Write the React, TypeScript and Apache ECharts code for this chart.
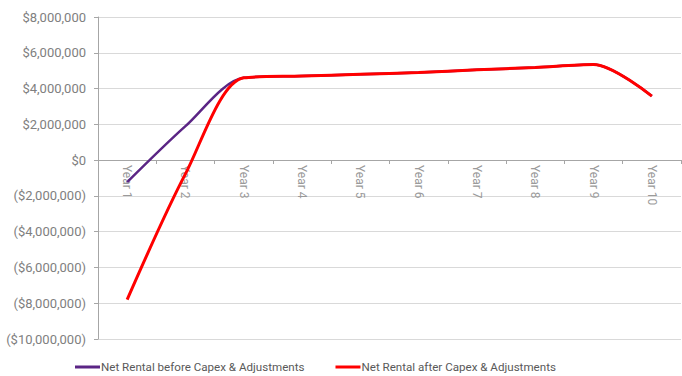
import React, { useEffect, useRef } from "react";
import * as echarts from "echarts";

const categories = ["Year 1", "Year 2", "Year 3", "Year 4", "Year 5", "Year 6", "Year 7", "Year 8", "Year 9", "Year 10"];
const netBefore = [-1230000, 1900000, 4600000, 4700000, 4800000, 4900000, 5050000, 5180000, 5350000, 3580000];
const netAfter = [-7800000, -770000, 4600000, 4700000, 4800000, 4900000, 5050000, 5180000, 5350000, 3580000];
const seriesNames = ["Net Rental before Capex & Adjustments", "Net Rental after Capex & Adjustments"];

const fmt = (v: number) => {
  const s = "$" + Math.abs(v).toLocaleString("en-US");
  return v < 0 ? "(" + s + ")" : s;
};

export default function App() {
  const ref = useRef<HTMLDivElement>(null);
  useEffect(() => {
    const chart = echarts.init(ref.current!, undefined, { renderer: "svg" });
    const font = "Roboto";
    chart.setOption({
      animation: false,
      textStyle: { fontFamily: font },
      grid: { left: 98, right: 1, top: 17, bottom: 37, containLabel: false, outerBoundsMode: "none" },
      legend: {
        top: 361,
        left: 75,
        padding: 0,
        itemWidth: 25,
        itemHeight: 3,
        itemGap: 31,
        icon: "rect",
        textStyle: { color: "#595959", fontSize: 11.6, fontFamily: font, padding: [0, 0, 0, -4] },
        data: seriesNames,
      },
      xAxis: {
        type: "category",
        data: categories,
        boundaryGap: true,
        position: "bottom",
        offset: -179,
        axisLine: { onZero: false, lineStyle: { color: "#a6a6a6", width: 1 } },
        axisTick: { show: true, length: 4, lineStyle: { color: "#a6a6a6" } },
        axisLabel: { rotate: -90, color: "#9a9a9a", fontSize: 12, margin: 5, fontFamily: font },
        splitLine: { show: false },
      },
      yAxis: {
        type: "value",
        min: -10000000,
        max: 8000000,
        interval: 2000000,
        axisLine: { show: true, lineStyle: { color: "#a6a6a6" } },
        axisTick: { show: true, length: 4, lineStyle: { color: "#a6a6a6" } },
        axisLabel: { formatter: fmt, color: "#808080", fontSize: 13, margin: 12, fontFamily: font },
        splitLine: { show: true, lineStyle: { color: "#d9d9d9", width: 1 } },
      },
      series: [
        {
          name: seriesNames[0],
          type: "line",
          data: netBefore,
          smooth: 0.3,
          showSymbol: false,
          symbol: "none",
          lineStyle: { color: "#5b2585", width: 2.5 },
          itemStyle: { color: "#5b2585" },
        },
        {
          name: seriesNames[1],
          type: "line",
          data: netAfter,
          smooth: 0.3,
          showSymbol: false,
          symbol: "none",
          lineStyle: { color: "#ff0000", width: 3 },
          itemStyle: { color: "#ff0000" },
        },
      ],
    });
    return () => chart.dispose();
  }, []);
  return <div ref={ref} style={{ width: 682, height: 376, position: "absolute", left: 0, top: 0 }} />;
}
